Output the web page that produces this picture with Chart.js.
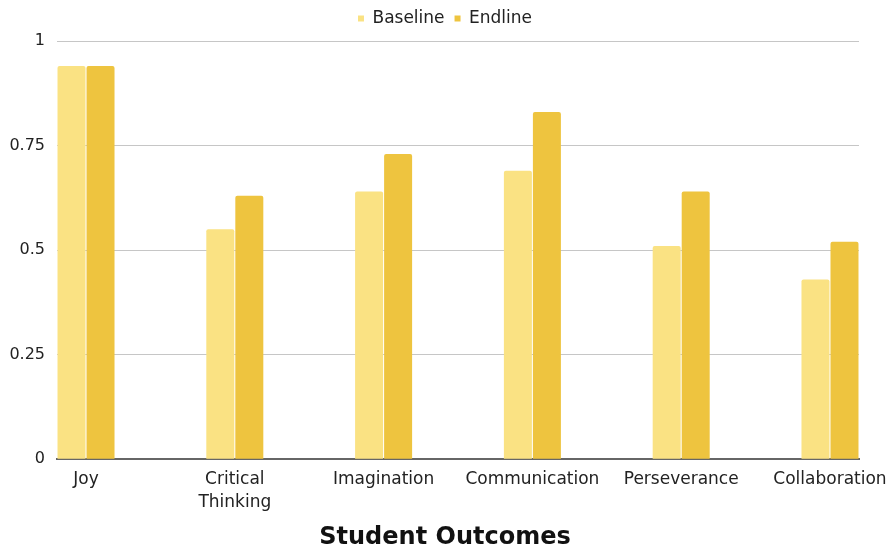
<!DOCTYPE html>
<html>
<head>
<meta charset="utf-8">
<script src="https://cdn.jsdelivr.net/npm/chart.js@4"></script>
<style>
  body { margin: 0; background: #fff; }
  #wrap { width: 890px; height: 552px; position: relative; }
</style>
</head>
<body>
<div id="wrap"><canvas id="outcomesChart"></canvas></div>
<script>
const categories = ['Joy', ['Critical', 'Thinking'], 'Imagination', 'Communication', 'Perseverance', 'Collaboration'];
const baseline = [0.94, 0.55, 0.64, 0.69, 0.51, 0.43];
const endline = [0.94, 0.63, 0.73, 0.83, 0.64, 0.52];
const yTicks = [0, 0.25, 0.5, 0.75, 1];

const FONT = '"DejaVu Sans", sans-serif';

const ctx = document.getElementById('outcomesChart').getContext('2d');
const outcomesChart = new Chart(ctx, {
    type: 'bar',
    data: {
        datasets: [
            {
                label: 'Baseline',
                data: baseline.map((v, i) => ({ x: i, y: v })),
                backgroundColor: '#fae283',
                borderRadius: { topLeft: 2, topRight: 2 },
                borderSkipped: 'bottom',
            },
            {
                label: 'Endline',
                data: endline.map((v, i) => ({ x: i, y: v })),
                backgroundColor: '#eec43f',
                borderRadius: { topLeft: 2, topRight: 2 },
                borderSkipped: 'bottom',
            },
        ],
    },
    options: {
        responsive: true,
        maintainAspectRatio: false,
        animation: false,
        categoryPercentage: 0.39,
        barPercentage: 0.965,
        layout: { padding: 0 },
        plugins: {
            tooltip: { enabled: false },
            legend: {
                position: 'top',
                align: 'center',
                labels: {
                    boxWidth: 6,
                    boxHeight: 6,
                    color: '#222',
                    font: { family: FONT, size: 17 },
                    padding: 10,
                },
            },
            // centred on the whole canvas, below the x axis
            title: {
                display: true,
                position: 'bottom',
                text: 'Student Outcomes',
                color: '#111',
                font: { family: FONT, size: 24, weight: 'bold' },
                padding: { top: 0, bottom: 0 },
            },
        },
        scales: {
            x: {
                type: 'linear',
                offset: false,
                min: -0.195,
                max: 5.195,
                afterBuildTicks: (scale) => {
                    scale.ticks = categories.map((c, i) => ({ value: i }));
                },
                // labels may hang past the plot edges, like the reference
                afterFit: (scale) => {
                    scale.paddingLeft = 0;
                    scale.paddingRight = 0;
                },
                grid: { display: false, drawTicks: false },
                border: { display: true, color: '#666', width: 2 },
                ticks: {
                    autoSkip: false,
                    maxRotation: 0,
                    padding: 9,
                    color: '#222',
                    font: { family: FONT, size: 17, lineHeight: 1.35 },
                    callback: (value) => categories[value],
                },
            },
            y: {
                min: 0,
                max: 1,
                afterBuildTicks: (scale) => {
                    scale.ticks = yTicks.map(v => ({ value: v }));
                },
                afterFit: (scale) => { scale.width = 57; },
                grid: { color: '#c6c6c6', lineWidth: 1, drawTicks: false },
                border: { display: false },
                ticks: {
                    padding: 12,
                    color: '#222',
                    font: { family: FONT, size: 16 },
                    callback: (value) => String(value),
                },
            },
            // empty spacers so the plot sits where the reference has it
            spacer: {
                type: 'linear',
                position: 'right',
                display: true,
                grid: { display: false, drawTicks: false },
                border: { display: false },
                ticks: { display: false },
                afterFit: (scale) => { scale.width = 31; },
            },
            spacerTop: {
                type: 'linear',
                axis: 'x',
                position: 'top',
                display: true,
                grid: { display: false, drawTicks: false },
                border: { display: false },
                ticks: { display: false },
                afterFit: (scale) => { scale.height = 4; },
            },
        },
    },
});
</script>
</body>
</html>
